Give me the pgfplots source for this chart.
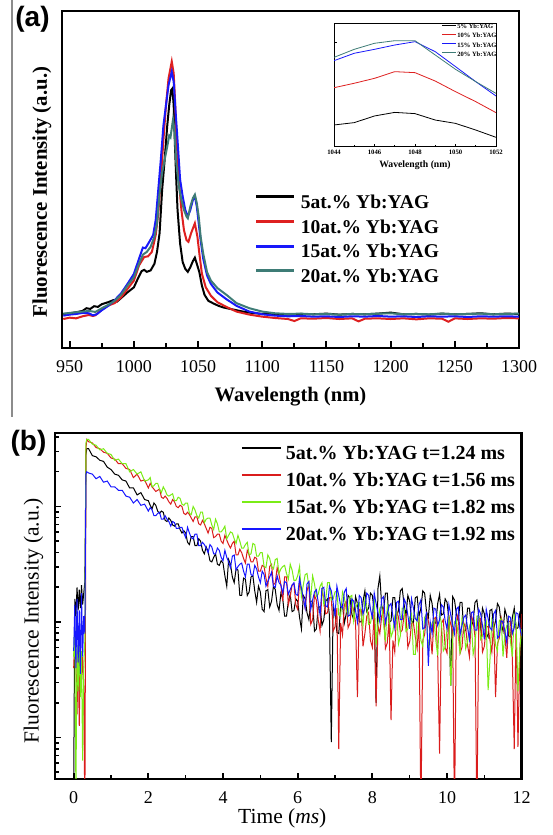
\documentclass[border=0pt]{standalone}
\usepackage{fontspec}
\setmainfont{Liberation Serif}
\setsansfont{Liberation Sans}
\usepackage{pgfplots}
\usepackage{pgfplotstable}
\pgfplotsset{compat=1.18}
\pgfplotsset{/pgf/number format/assume math mode=true, /pgf/number format/1000 sep={}}

% spectrum colours
\definecolor{sK}{RGB}{0,0,0}
\definecolor{sR}{RGB}{222,32,32}
\definecolor{sB}{RGB}{24,24,250}
\definecolor{sT}{RGB}{62,124,118}
% decay colours
\definecolor{dK}{RGB}{0,0,0}
\definecolor{dR}{RGB}{218,28,28}
\definecolor{dG}{RGB}{122,236,22}
\definecolor{dB}{RGB}{22,22,255}

% ---- emission spectra (normalised intensity) ----
\pgfplotstableread{
x y
945 0.100
950 0.103
955 0.106
960 0.110
963 0.118
966 0.116
969 0.124
972 0.122
975 0.130
980 0.136
984 0.142
987 0.138
990 0.148
995 0.165
1000 0.180
1003 0.205
1006 0.228
1008 0.232
1010 0.226
1013 0.230
1016 0.250
1018 0.285
1020 0.340
1022 0.469
1024 0.560
1026 0.660
1027.5 0.720
1029 0.765
1030 0.770
1031 0.720
1032 0.600
1033 0.500
1034 0.410
1036 0.310
1038 0.255
1040 0.235
1042 0.226
1044 0.240
1046 0.258
1047.5 0.268
1049 0.250
1051 0.225
1053 0.185
1055 0.158
1058 0.140
1062 0.132
1066 0.125
1070 0.120
1075 0.116
1080 0.112
1085 0.108
1090 0.105
1095 0.103
1100 0.101
1110 0.100
1120 0.099
1130 0.101
1140 0.100
1150 0.102
1160 0.099
1170 0.101
1180 0.100
1190 0.102
1200 0.105
1210 0.100
1220 0.101
1230 0.099
1240 0.102
1250 0.100
1260 0.101
1270 0.103
1280 0.100
1290 0.102
1300 0.101
}\specK
\pgfplotstableread{
x y
945 0.086
950 0.090
955 0.088
960 0.094
965 0.098
968 0.095
970 0.097
975 0.114
980 0.126
985 0.133
990 0.150
995 0.175
1000 0.200
1004 0.245
1008 0.270
1011 0.272
1014 0.285
1017 0.335
1019 0.400
1021 0.500
1023 0.617
1025 0.720
1027 0.800
1029.5 0.850
1031 0.815
1032 0.740
1033 0.640
1035 0.500
1037 0.410
1039 0.350
1041 0.320
1042.5 0.315
1044.5 0.340
1047.5 0.370
1049.5 0.330
1051 0.280
1053 0.220
1056 0.180
1060 0.155
1065 0.136
1072 0.122
1080 0.108
1090 0.099
1100 0.093
1110 0.089
1120 0.086
1125 0.080
1130 0.088
1140 0.087
1150 0.089
1160 0.086
1170 0.088
1175 0.079
1180 0.087
1190 0.088
1200 0.086
1210 0.088
1220 0.085
1230 0.088
1240 0.087
1245 0.078
1250 0.088
1260 0.086
1270 0.088
1280 0.087
1290 0.089
1300 0.088
}\specR
\pgfplotstableread{
x y
945 0.096
950 0.099
955 0.101
960 0.104
965 0.103
968 0.097
971 0.100
975 0.112
980 0.125
985 0.142
990 0.162
995 0.190
1000 0.220
1004 0.265
1007 0.298
1009 0.296
1012 0.315
1015 0.335
1017 0.380
1019 0.470
1021 0.560
1023 0.660
1025 0.720
1027 0.780
1029.5 0.820
1031 0.790
1032.5 0.700
1034 0.617
1036 0.500
1038 0.450
1040 0.410
1042 0.390
1044 0.410
1046 0.440
1047.5 0.450
1049 0.420
1050.5 0.370
1052 0.320
1054 0.265
1057 0.215
1060 0.190
1065 0.165
1072 0.145
1080 0.125
1090 0.108
1100 0.100
1110 0.096
1120 0.094
1130 0.095
1140 0.093
1150 0.094
1160 0.092
1170 0.094
1180 0.093
1190 0.095
1200 0.093
1210 0.094
1220 0.092
1230 0.094
1240 0.093
1250 0.094
1260 0.092
1270 0.094
1280 0.093
1290 0.094
1300 0.093
}\specB
\pgfplotstableread{
x y
945 0.102
950 0.104
955 0.106
960 0.108
965 0.110
970 0.107
975 0.118
980 0.128
985 0.140
990 0.158
995 0.185
1000 0.210
1004 0.250
1007 0.277
1010 0.285
1013 0.300
1016 0.330
1018 0.370
1020 0.459
1022 0.520
1024 0.560
1026 0.598
1027.5 0.630
1028.5 0.625
1030.5 0.678
1031.5 0.650
1033 0.550
1035 0.480
1037 0.440
1039 0.410
1041 0.390
1042 0.385
1044 0.420
1046 0.445
1047.5 0.455
1049 0.430
1050.5 0.390
1052 0.330
1054 0.280
1057 0.225
1060 0.200
1065 0.178
1072 0.158
1080 0.133
1090 0.118
1100 0.108
1110 0.103
1120 0.101
1130 0.102
1140 0.100
1150 0.101
1160 0.099
1170 0.101
1180 0.100
1190 0.102
1200 0.103
1210 0.100
1220 0.101
1230 0.100
1240 0.102
1250 0.100
1260 0.101
1270 0.102
1280 0.100
1290 0.101
1300 0.102
}\specT

% ---- zoom on the 1048 nm band ----
\pgfplotstableread{
x k r b t
1044 0.176 0.478 0.697 0.724
1045 0.195 0.514 0.757 0.789
1046 0.249 0.554 0.789 0.838
1047 0.278 0.608 0.824 0.859
1048 0.268 0.600 0.851 0.859
1049 0.216 0.532 0.770 0.743
1050 0.189 0.446 0.649 0.627
1051 0.135 0.365 0.527 0.527
1052 0.076 0.276 0.411 0.432
}\zoomband

% ---- decay curves, log10 of intensity ----
\pgfplotstableread{
t k r g b
0.00 0.50 1.60 1.70 1.75
0.03 2.20 1.85 1.95 2.15
0.06 2.05 1.70 0.50 1.60
0.09 2.30 1.20 1.80 2.20
0.12 2.10 1.75 1.40 1.65
0.15 2.28 1.10 1.85 2.10
0.18 2.12 1.80 1.35 1.55
0.21 2.32 1.50 1.75 2.25
0.24 2.15 1.70 0.80 1.70
0.27 2.25 1.45 1.60 2.05
0.30 2.35 0.30 1.85 1.90
0.33 3.45 3.50 3.55 3.28
0.35 3.50 3.58 3.58 3.30
0.4 3.50 3.56 3.58 3.29
0.5 3.44 3.55 3.54 3.28
0.6 3.43 3.51 3.53 3.24
0.7 3.40 3.50 3.49 3.26
0.8 3.39 3.47 3.50 3.21
0.9 3.34 3.46 3.46 3.22
1.0 3.32 3.42 3.45 3.17
1.1 3.28 3.41 3.40 3.17
1.2 3.27 3.37 3.41 3.14
1.3 3.23 3.37 3.37 3.14
1.4 3.22 3.33 3.37 3.09
1.5 3.16 3.32 3.30 3.08
1.6 3.16 3.25 3.32 3.03
1.7 3.10 3.28 3.28 3.06
1.8 3.12 3.22 3.30 3.01
1.9 3.06 3.23 3.22 3.02
2.0 3.05 3.16 3.23 2.96
2.05 3.01 3.20 3.25 2.99
2.1 2.98 3.17 3.17 2.97
2.15 3.03 3.15 3.18 2.92
2.2 3.01 3.13 3.20 2.92
2.25 2.96 3.14 3.20 2.94
2.3 2.94 3.15 3.15 2.95
2.35 2.96 3.08 3.12 2.89
2.4 2.95 3.07 3.17 2.89
2.45 2.88 3.09 3.14 2.92
2.5 2.87 3.07 3.10 2.89
2.55 2.90 3.04 3.09 2.87
2.6 2.88 3.02 3.10 2.83
2.65 2.84 3.06 3.11 2.87
2.7 2.83 3.04 3.05 2.86
2.75 2.85 3.00 3.05 2.81
2.8 2.85 2.99 3.08 2.81
2.85 2.80 3.01 3.07 2.82
2.9 2.77 3.00 3.02 2.82
2.95 2.79 2.94 3.01 2.77
3.0 2.77 2.93 3.03 2.73
3.05 2.69 2.95 3.03 2.82
3.1 2.67 2.93 2.94 2.77
3.15 2.74 2.90 2.93 2.73
3.2 2.74 2.87 3.00 2.72
3.25 2.66 2.91 2.97 2.76
3.3 2.66 2.91 2.92 2.76
3.35 2.72 2.85 2.90 2.66
3.4 2.70 2.84 2.95 2.66
3.45 2.62 2.88 2.95 2.69
3.5 2.59 2.85 2.86 2.67
3.55 2.65 2.81 2.89 2.64
3.6 2.61 2.77 2.90 2.60
3.65 2.53 2.82 2.90 2.67
3.7 2.52 2.81 2.84 2.65
3.75 2.56 2.73 2.80 2.59
3.8 2.59 2.74 2.89 2.59
3.85 2.50 2.76 2.85 2.64
3.9 2.49 2.76 2.78 2.62
3.95 2.53 2.70 2.78 2.56
4.0 2.51 2.68 2.80 2.53
4.05 2.40 2.75 2.83 2.62
4.1 2.31 2.71 2.72 2.56
4.15 2.54 2.67 2.75 2.52
4.2 2.50 2.64 2.78 2.47
4.25 2.39 2.68 2.77 2.57
4.3 2.34 2.70 2.72 2.58
4.35 2.46 2.58 2.68 2.45
4.4 2.45 2.58 2.75 2.48
4.45 2.23 2.63 2.70 2.50
4.5 2.23 2.60 2.64 2.51
4.55 2.38 2.55 2.64 2.44
4.6 2.37 2.51 2.67 2.39
4.65 2.23 2.62 2.69 2.50
4.7 2.26 2.58 2.58 2.50
4.75 2.39 2.52 2.59 2.41
4.8 2.40 2.52 2.68 2.40
4.85 2.27 2.56 2.67 2.49
4.9 2.17 2.55 2.57 2.46
4.95 2.31 2.44 2.57 2.39
5.0 2.26 2.44 2.60 2.34
5.05 2.11 2.49 2.60 2.44
5.1 2.09 2.48 2.48 2.41
5.15 2.27 2.38 2.47 2.31
5.2 2.28 2.31 2.58 2.35
5.25 2.13 2.48 2.55 2.39
5.3 2.18 2.50 2.48 2.43
5.35 2.31 2.32 2.46 2.31
5.4 2.28 2.34 2.54 2.30
5.45 2.15 2.47 2.55 2.40
5.5 2.10 2.41 2.42 2.34
5.55 2.25 2.32 2.46 2.32
5.6 2.20 2.18 2.48 2.25
5.65 2.05 2.39 2.49 2.35
5.7 2.05 2.39 2.42 2.34
5.75 2.18 2.15 2.37 2.24
5.8 2.24 2.22 2.50 2.28
5.85 2.09 2.32 2.45 2.32
5.9 2.10 2.33 2.36 2.34
5.95 2.20 2.15 2.36 2.24
6.0 2.18 2.11 2.40 2.23
6.05 2.04 2.34 2.48 2.38
6.1 1.94 2.27 2.22 2.29
6.15 2.23 2.20 2.32 2.21
6.2 2.20 2.12 2.41 2.12
6.25 2.08 2.27 2.42 2.33
6.3 2.02 2.33 2.31 2.35
6.35 2.18 1.98 2.21 2.11
6.4 2.18 2.02 2.40 2.19
6.45 1.92 2.23 2.33 2.26
6.5 1.94 2.19 2.22 2.28
6.55 2.13 2.02 2.24 2.17
6.6 2.13 1.92 2.31 2.06
6.65 1.97 2.27 2.34 2.29
6.7 2.02 2.21 2.15 2.30
6.75 2.18 2.07 2.19 2.14
6.8 2.20 2.08 2.34 2.13
6.85 2.06 2.21 2.34 2.31
6.9 0.96 2.21 2.19 2.27
6.95 2.13 1.92 2.20 2.17
7.0 2.08 1.96 2.26 2.05
7.05 1.91 2.12 2.27 2.31
7.1 1.90 0.90 2.06 2.23
7.15 2.13 1.99 2.05 2.14
7.2 2.15 1.89 2.26 2.12
7.25 1.99 2.15 2.21 2.26
7.3 2.07 2.18 2.10 2.29
7.35 2.23 1.95 2.06 2.05
7.4 2.21 1.99 2.22 2.06
7.45 2.07 2.16 2.23 2.20
7.5 2.02 2.10 2.01 2.18
7.55 2.22 2.00 2.12 2.10
7.6 2.16 1.35 2.16 2.00
7.65 2.00 2.11 2.17 2.23
7.7 2.00 2.11 2.06 2.21
7.75 2.18 1.79 1.97 2.07
7.8 2.27 1.90 2.20 2.12
7.85 2.09 2.05 2.13 2.25
7.9 2.12 2.08 1.98 2.23
7.95 2.25 1.84 1.99 2.11
8.0 2.23 1.78 2.08 2.04
8.05 2.09 2.10 2.20 2.25
8.1 1.30 1.27 1.80 2.16
8.15 2.29 1.97 1.98 2.08
8.2 2.40 1.90 2.12 2.00
8.25 2.14 2.05 2.14 2.20
8.3 2.09 2.11 1.99 2.22
8.35 2.25 1.77 1.83 1.99
8.4 2.25 1.82 2.14 2.07
8.45 2.00 2.03 2.06 2.14
8.5 2.01 1.15 1.87 2.16
8.55 2.21 1.84 1.92 2.05
8.6 2.21 1.74 2.05 1.95
8.65 2.05 2.10 2.10 2.17
8.7 2.10 2.04 1.81 2.18
8.75 2.27 1.91 1.88 2.02
8.8 2.29 1.93 2.12 2.02
8.85 2.15 2.06 2.12 2.20
8.9 2.05 2.07 1.92 2.16
8.95 2.23 1.78 1.94 2.06
9.0 2.18 1.83 2.04 1.94
9.05 2.01 1.99 2.07 2.20
9.1 1.99 1.99 1.72 2.12
9.15 2.21 1.87 1.72 2.03
9.2 2.22 1.77 2.07 2.01
9.25 2.05 2.04 2.01 2.15
9.3 2.12 0.30 1.84 2.19
9.35 2.27 1.84 1.79 1.94
9.4 2.25 1.89 2.04 1.95
9.45 2.09 2.07 2.07 2.09
9.5 2.04 2.01 1.73 1.62
9.55 2.23 1.91 1.93 2.00
9.6 2.16 1.72 1.99 1.90
9.65 1.99 2.03 2.02 2.12
9.7 1.99 2.04 1.84 2.11
9.75 2.16 1.72 1.71 1.97
9.8 2.24 0.86 2.07 2.02
9.85 2.06 1.99 1.99 2.15
9.9 2.07 2.02 1.75 2.13
9.95 2.20 1.78 1.78 2.01
10.0 2.17 1.73 1.94 1.94
10.05 2.03 2.05 2.06 2.15
10.1 1.45 1.98 1.45 2.06
10.15 2.22 1.92 1.85 1.98
10.2 2.19 0.30 2.00 1.90
10.25 2.07 2.01 2.02 2.11
10.3 2.01 2.07 1.88 2.13
10.35 2.17 1.73 1.72 1.89
10.4 2.17 1.78 2.03 1.97
10.45 1.91 1.99 1.96 2.04
10.5 1.93 1.95 1.77 2.06
10.55 2.12 1.80 1.83 1.95
10.6 2.12 1.70 1.96 1.85
10.65 1.96 2.06 2.01 2.08
10.7 2.01 2.00 1.72 2.09
10.75 2.17 1.87 1.80 1.93
10.8 2.19 0.30 2.05 1.93
10.85 2.05 2.02 2.05 2.11
10.9 1.94 2.03 1.85 2.07
10.95 2.12 1.74 1.88 1.97
11.0 2.07 1.79 1.98 1.85
11.05 1.90 1.96 2.01 2.11
11.1 1.87 1.96 1.41 2.03
11.15 2.10 1.84 1.67 1.95
11.2 2.11 1.74 2.02 1.93
11.25 1.94 2.00 1.97 2.07
11.3 2.01 1.35 1.80 2.10
11.35 2.16 1.81 1.75 1.86
11.4 2.13 1.86 2.01 1.88
11.45 1.98 2.04 2.03 2.01
11.5 1.92 1.98 1.70 2.00
11.55 2.11 1.88 1.90 1.92
11.6 2.05 1.69 1.97 1.82
11.65 1.88 2.00 2.00 2.05
11.7 1.87 2.01 1.83 2.04
11.75 2.04 1.68 1.70 1.90
11.8 2.12 0.90 2.06 1.95
11.85 1.94 1.96 1.98 2.08
11.9 1.95 0.92 1.40 2.07
11.95 2.08 1.75 1.77 1.95
12.0 2.05 2.07 1.94 1.88
}\decay

\begin{document}
\begin{tikzpicture}
\useasboundingbox (0bp,0bp) rectangle (553bp,835bp);
\draw[black!45, line width=1.5bp] (12bp,835bp) -- (12bp,418bp);
\node[font=\sffamily\bfseries\fontsize{28bp}{30bp}\selectfont] at (32.5bp,816bp) {(a)};
\node[font=\sffamily\bfseries\fontsize{28bp}{30bp}\selectfont] at (28.5bp,392bp) {(b)};

% ---------- (a) emission spectra ----------
\begin{axis}[
  at={(62bp,487bp)}, anchor=south west,
  scale only axis, width=457bp, height=337bp,
  xmin=944, xmax=1300, ymin=0, ymax=1,
  axis line style={line width=2.6bp},
  xtick={950,1000,...,1300},
  minor xtick={975,1025,...,1275},
  ytick=\empty,
  xtick pos=bottom, tick align=inside,
  major tick length=7bp, minor tick length=4.5bp,
  major tick style={line width=2bp,black},
  minor tick style={line width=2bp,black},
  xticklabel style={font=\fontsize{18bp}{20bp}\selectfont, inner sep=0pt, yshift=-12bp},
  xlabel={\bfseries Wavelength (nm)},
  xlabel style={font=\fontsize{20.6bp}{22bp}\selectfont, at={(axis description cs:0.5,-0.159)}, anchor=base},
  ylabel={\bfseries Fluorescence Intensity (a.u.)},
  ylabel style={font=\fontsize{20.8bp}{22bp}\selectfont, at={(axis description cs:-0.044,0.463)}, anchor=center},
  legend style={at={(axis description cs:0.4223,0.3194)}, anchor=west, draw=none, fill=none,
    inner sep=0pt, outer sep=0pt, row sep=6.7bp, column sep=5bp,
    font=\bfseries\fontsize{19.5bp}{22bp}\selectfont,
    nodes={inner sep=0pt, text height=14bp, text depth=4bp}},
  legend cell align=left,
  legend image code/.code={\draw[#1, line width=3bp] (0bp,6.5bp) -- (38bp,6.5bp);},
]
\addplot[sK, line width=2bp] table[x=x,y=y] {\specK};
\addlegendentry{5at.\% Yb:YAG}
\addplot[sR, line width=2bp] table[x=x,y=y] {\specR};
\addlegendentry{10at.\% Yb:YAG}
\addplot[sB, line width=2bp] table[x=x,y=y] {\specB};
\addlegendentry{15at.\% Yb:YAG}
\addplot[sT, line width=2bp] table[x=x,y=y] {\specT};
\addlegendentry{20at.\% Yb:YAG}
\end{axis}

% ---------- inset: 1044--1052 nm ----------
\begin{axis}[
  at={(334bp,688.3bp)}, anchor=south west,
  scale only axis, width=162bp, height=123.4bp,
  xmin=1044, xmax=1052, ymin=0, ymax=1,
  axis background/.style={fill=white},
  axis line style={line width=0.8bp},
  xtick={1044,1046,...,1052}, minor xtick={1045,1047,...,1051},
  ytick={0.843}, yticklabels={},
  xtick pos=bottom, ytick pos=left, tick align=inside,
  major tick length=3bp, minor tick length=2bp,
  tick style={line width=0.6bp,black},
  xticklabel style={font=\bfseries\fontsize{6.7bp}{7bp}\selectfont, inner sep=0pt, yshift=-3.5bp},
  xlabel={\bfseries Wavelength (nm)},
  xlabel style={font=\fontsize{9.7bp}{10bp}\selectfont, at={(axis description cs:0.5,-0.165)}, anchor=base},
  legend style={at={(axis description cs:0.665,0.858)}, anchor=west, draw=none, fill=none,
    inner sep=0pt, outer sep=0pt, row sep=2.9bp, column sep=0.7bp,
    font=\bfseries\fontsize{6.5bp}{7bp}\selectfont,
    nodes={inner sep=0pt, text height=4.8bp, text depth=1.4bp}},
  legend cell align=left,
  legend image code/.code={\draw[#1, line width=0.7bp] (0bp,2.2bp) -- (14.3bp,2.2bp);},
]
\addplot[sK, line width=0.8bp] table[x=x,y=k] {\zoomband};
\addlegendentry{5\% Yb:YAG}
\addplot[sR, line width=0.8bp] table[x=x,y=r] {\zoomband};
\addlegendentry{10\% Yb:YAG}
\addplot[sB, line width=0.8bp] table[x=x,y=b] {\zoomband};
\addlegendentry{15\% Yb:YAG}
\addplot[sT, line width=0.8bp] table[x=x,y=t] {\zoomband};
\addlegendentry{20\% Yb:YAG}
\end{axis}

% ---------- (b) decay curves, logarithmic intensity ----------
\begin{axis}[
  at={(55bp,56bp)}, anchor=south west,
  scale only axis, width=466.7bp, height=346bp,
  xmin=-0.5, xmax=12, ymin=0.641, ymax=3.636,
  axis line style={line width=2.6bp},
  xtick={0,2,...,12}, minor xtick={1,3,...,11},
  ytick={1,2,3}, yticklabels={},
  minor ytick={0.699,0.778,0.845,0.903,0.954,1.301,1.477,1.602,1.699,1.778,1.845,1.903,1.954,2.301,2.477,2.602,2.699,2.778,2.845,2.903,2.954,3.301,3.477,3.602},
  xtick pos=bottom, ytick pos=left, tick align=inside,
  major tick length=6bp, minor tick length=4bp,
  major tick style={line width=1.8bp,black},
  minor tick style={line width=1.6bp,black},
  xticklabel style={font=\fontsize{18bp}{20bp}\selectfont, inner sep=0pt, yshift=-12.5bp},
  xlabel={Time (\textit{ms})},
  xlabel style={font=\fontsize{21.5bp}{23bp}\selectfont, at={(axis description cs:0.487,-0.130)}, anchor=base},
  ylabel={Fluorescence Intensity (a.u.)},
  ylabel style={font=\fontsize{21.5bp}{23bp}\selectfont, at={(axis description cs:-0.046,0.457)}, anchor=center},
  legend style={at={(axis description cs:0.3985,0.8194)}, anchor=west, draw=none, fill=none,
    inner sep=0pt, outer sep=0pt, row sep=8bp, column sep=4bp,
    font=\bfseries\fontsize{20bp}{22bp}\selectfont,
    nodes={inner sep=0pt, text height=14.5bp, text depth=4.5bp}},
  legend cell align=left,
  legend image code/.code={\draw[#1, line width=2bp] (0bp,7bp) -- (39bp,7bp);},
]
\addplot[dK, line width=1bp] table[x=t,y=k] {\decay};
\addlegendentry{5at.\% Yb:YAG t=1.24 ms}
\addplot[dR, line width=1bp] table[x=t,y=r] {\decay};
\addlegendentry{10at.\% Yb:YAG t=1.56 ms}
\addplot[dG, line width=1bp] table[x=t,y=g] {\decay};
\addlegendentry{15at.\% Yb:YAG t=1.82 ms}
\addplot[dB, line width=1bp] table[x=t,y=b] {\decay};
\addlegendentry{20at.\% Yb:YAG t=1.92 ms}
\end{axis}
\end{tikzpicture}
\end{document}
